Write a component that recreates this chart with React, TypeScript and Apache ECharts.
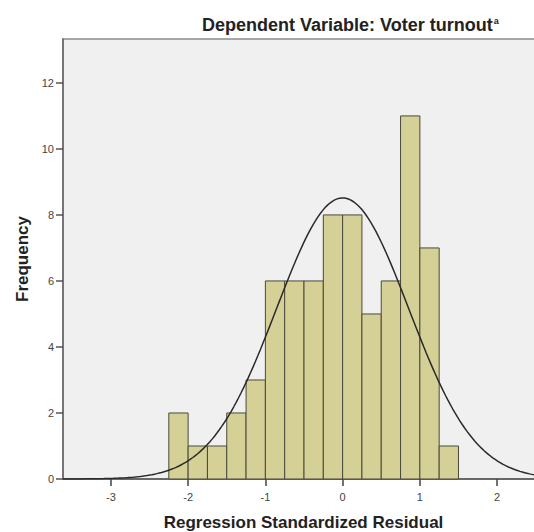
import React, { useEffect, useRef } from "react";
import * as echarts from "echarts";

// Histogram bins (left edge of each bin) and frequencies
const binStarts = [-2.25, -2.0, -1.75, -1.5, -1.25, -1.0, -0.75, -0.5, -0.25, 0.0, 0.25, 0.5, 0.75, 1.0, 1.25];
const frequencies = [2, 1, 1, 2, 3, 6, 6, 6, 8, 8, 5, 6, 11, 7, 1];
const binWidth = 0.25;

// Fitted normal curve parameters
const curveMean = 0.0;
const curveSd = 0.855;
const totalN = 73;

// Axis settings
const xTicks = [-3, -2, -1, 0, 1, 2];
const yTicks = [0, 2, 4, 6, 8, 10, 12];
const xMin = -3.62;
const xMax = 2.607;
const yMax = 13.33;

const FONT = "'Liberation Sans', Arial, sans-serif";

export default function App() {
  const ref = useRef<HTMLDivElement>(null);

  useEffect(() => {
    document.body.style.margin = "0";
    if (!ref.current) return;
    const chart = echarts.init(ref.current, undefined, { renderer: "svg" });

    const histData = binStarts.map((s, i) => [s, s + binWidth, frequencies[i]]);

    const curveData: number[][] = [];
    const steps = 200;
    for (let i = 0; i <= steps; i++) {
      const x = xMin + ((xMax - xMin) * i) / steps;
      const z = (x - curveMean) / curveSd;
      const y = (totalN * binWidth) / (curveSd * Math.sqrt(2 * Math.PI)) * Math.exp(-0.5 * z * z);
      curveData.push([x, y]);
    }

    chart.setOption({
      animation: false,
      backgroundColor: "#ffffff",
      title: {
        text: "Dependent Variable: Voter turnout{sup|a}",
        left: 197,
        top: 11,
        textStyle: {
          fontFamily: FONT,
          fontSize: 18,
          fontWeight: "bold",
          color: "#222",
          rich: {
            sup: { fontSize: 9, fontWeight: "bold", color: "#222", verticalAlign: "top", padding: [0, 0, 8, 1] },
          },
        },
      },
      grid: {
        left: 63,
        right: 0,
        top: 39,
        bottom: 53,
        outerBoundsMode: "none",
        containLabel: false,
        show: true,
        backgroundColor: "#f0f0f0",
        borderColor: "#8a8a8a",
        borderWidth: 1.5,
      },
      xAxis: {
        type: "value",
        min: xMin,
        max: xMax,
        name: "Regression Standardized Residual",
        nameLocation: "middle",
        nameGap: 35,
        nameTextStyle: {
          fontFamily: FONT,
          fontSize: 17,
          fontWeight: "bold",
          color: "#222",
          padding: [0, 0, 0, 0],
        },
        splitLine: { show: false },
        axisLine: { show: true, onZero: false, lineStyle: { color: "#555", width: 1.5 } },
        axisTick: { show: true, customValues: xTicks, length: 7, lineStyle: { color: "#444", width: 1.5 } },
        axisLabel: {
          customValues: xTicks,
          fontFamily: FONT,
          fontSize: 11,
          color: "#444",
          margin: 12,
        },
      },
      yAxis: {
        type: "value",
        min: 0,
        max: yMax,
        name: "Frequency",
        nameLocation: "middle",
        nameGap: 32,
        nameRotate: 90,
        nameTextStyle: {
          fontFamily: FONT,
          fontSize: 17,
          fontWeight: "bold",
          color: "#222",
        },
        splitLine: { show: false },
        axisLine: { show: true, onZero: false, lineStyle: { color: "#666", width: 1.5 } },
        axisTick: { show: true, customValues: yTicks, length: 7, lineStyle: { color: "#555", width: 1.5 } },
        axisLabel: {
          customValues: yTicks,
          fontFamily: FONT,
          fontSize: 11,
          color: "#444",
          margin: 9,
        },
      },
      series: [
        {
          type: "custom",
          data: histData,
          encode: { x: [0, 1], y: 2 },
          renderItem: (params: any, api: any) => {
            const start = api.value(0);
            const end = api.value(1);
            const count = api.value(2);
            const p0 = api.coord([start, count]);
            const p1 = api.coord([end, 0]);
            return {
              type: "rect",
              shape: { x: p0[0], y: p0[1], width: p1[0] - p0[0], height: p1[1] - p0[1] },
              style: { fill: "#d4d096", stroke: "#4a4a3a", lineWidth: 1 },
            };
          },
          z: 2,
        },
        {
          type: "line",
          data: curveData,
          showSymbol: false,
          smooth: false,
          lineStyle: { color: "#2a2a2a", width: 1.5 },
          z: 3,
        },
      ],
    });

    return () => chart.dispose();
  }, []);

  return (
    <div style={{ width: 534, height: 532, overflow: "hidden", position: "relative" }}>
      <div ref={ref} style={{ width: 544, height: 532 }} />
    </div>
  );
}
